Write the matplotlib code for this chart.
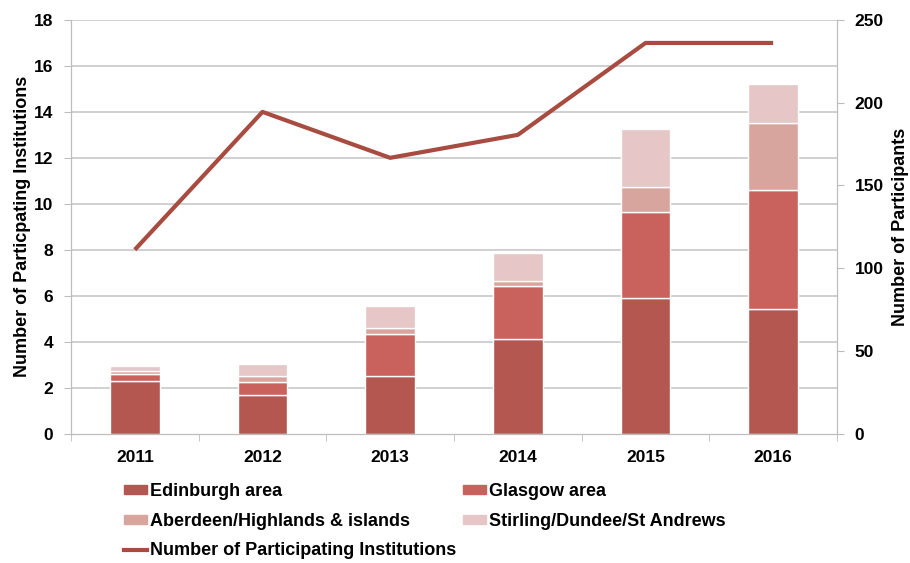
import matplotlib
matplotlib.use("Agg")
import matplotlib.pyplot as plt
import numpy as np
from matplotlib.patches import Patch
from matplotlib.lines import Line2D

plt.rcParams['font.family'] = ['Liberation Sans', 'DejaVu Sans']

years = ['2011', '2012', '2013', '2014', '2015', '2016']
# participants per region (right axis)
edinburgh = [32, 23, 35, 57, 82, 75]
glasgow = [4, 8, 25, 32, 52, 72]
aberdeen = [2, 4, 4, 3, 15, 41]
stirling = [3, 7, 13, 17, 35, 23]
# institutions (left axis)
institutions = [8, 14, 12, 13, 17, 17]

c_edi = '#b35750'
c_gla = '#c9625c'
c_abe = '#d8a59e'
c_sti = '#e6c6c7'
c_line = '#a84b40'
grey = '#bdbdbd'

fig = plt.figure(figsize=(9.1, 5.63), dpi=100)
ax = fig.add_axes([0.078, 0.230, 0.8418, 0.7345])
ax2 = ax.twinx()

x = np.arange(len(years))
w = 0.39
bottom = np.zeros(len(years))
for vals, col in [(edinburgh, c_edi), (glasgow, c_gla), (aberdeen, c_abe), (stirling, c_sti)]:
    ax2.bar(x, vals, w, bottom=bottom, color=col, edgecolor='white', linewidth=1.0, zorder=2)
    bottom += np.array(vals)

ax.plot(x, institutions, color=c_line, linewidth=3, zorder=5, solid_capstyle='butt')
ax.set_zorder(ax2.get_zorder() + 1)
ax.patch.set_visible(False)

ax.set_xlim(-0.5, 5.5)
ax.set_ylim(0, 18)
ax.set_yticks(range(0, 19, 2))
ax2.set_ylim(0, 250)
ax2.set_yticks(range(0, 251, 50))

for yv in range(2, 19, 2):
    ax2.axhline(yv * 250 / 18, color='#c8c8c8', linewidth=1.2, zorder=0)

ax.set_xticks(x)
ax.set_xticklabels(years, fontsize=12.5, fontweight='bold')
ax.set_xticks(np.arange(-0.5, 6, 1), minor=True)
ax.tick_params(axis='x', which='major', length=0, pad=12)
ax.tick_params(axis='x', which='minor', length=5, color=grey, direction='out')
ax.tick_params(axis='y', length=5, color=grey, labelsize=12.5, pad=8)
ax2.tick_params(axis='y', length=5, color=grey, labelsize=12.5, pad=7.5)
for lab in ax.get_yticklabels() + ax2.get_yticklabels():
    lab.set_fontweight('bold')

for a in (ax, ax2):
    for s in a.spines.values():
        s.set_color(grey)
    a.spines['top'].set_visible(False)

ax.set_ylabel('Number of Particpating Institutions', fontsize=13, fontweight='bold')
ax.yaxis.set_label_coords(-0.0522, 0.5)
ax2.set_ylabel('Number of Participants', fontsize=13, fontweight='bold')
ax2.yaxis.set_label_coords(1.0718, 0.5)

handles = [Patch(color=c_edi), Patch(color=c_abe),
           Line2D([0], [0], color=c_line, linewidth=3),
           Patch(color=c_gla), Patch(color=c_sti)]
labels = ['Edinburgh area', 'Aberdeen/Highlands & islands',
          'Number of Participating Institutions',
          'Glasgow area', 'Stirling/Dundee/St Andrews']
fig.legend(handles, labels, ncol=2, loc='upper left', bbox_to_anchor=(0.136, 0.142),
           frameon=False, prop={'size': 13, 'weight': 'bold'},
           handlelength=1.3, handleheight=0.43, handletextpad=0.15,
           columnspacing=0.35, labelspacing=0.7, borderpad=0, borderaxespad=0)

fig.savefig('out.png', dpi=100)
